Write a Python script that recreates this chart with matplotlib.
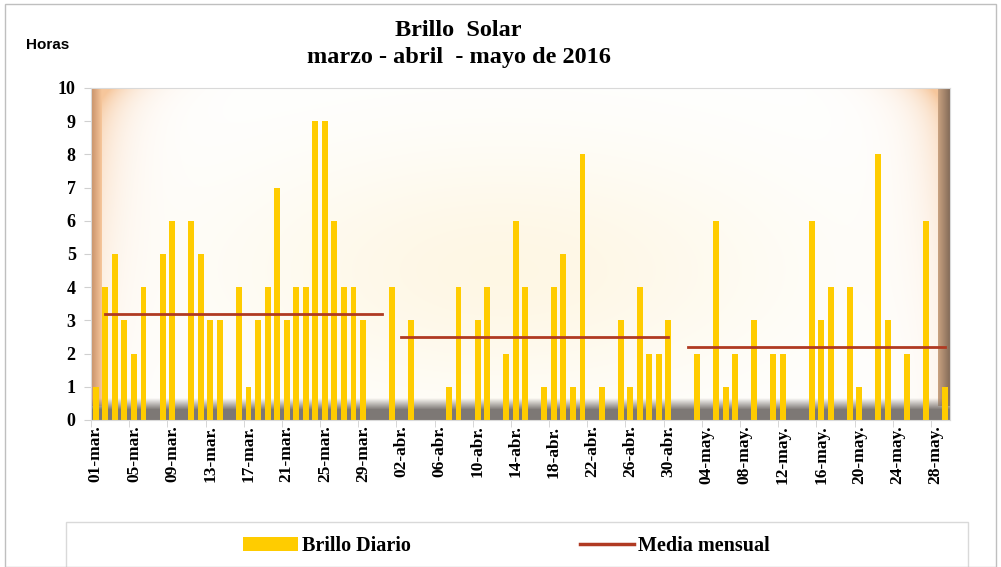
import numpy as np
import matplotlib
matplotlib.use("Agg")
import matplotlib.pyplot as plt
from matplotlib.patches import Rectangle, Patch
from matplotlib.lines import Line2D

# daily sunshine hours, 01-mar-2016 .. 29-may-2016
marzo = [1, 4, 5, 3, 2, 4, 0, 5, 6, 0, 6, 5, 3, 3, 0, 4, 1, 3, 4, 7,
         3, 4, 4, 9, 9, 6, 4, 4, 3, 0, 0]
abril = [4, 0, 3, 0, 0, 0, 1, 4, 0, 3, 4, 0, 2, 6, 4, 0, 1, 4, 5, 1,
         8, 0, 1, 0, 3, 1, 4, 2, 2, 3]
mayo = [0, 0, 2, 0, 6, 1, 2, 0, 3, 0, 2, 2, 0, 0, 6, 3, 4, 0, 4, 1,
        0, 8, 3, 0, 2, 0, 6, 0, 1]
brillo = marzo + abril + mayo

# monthly mean lines (first day index, last day index, value)
media_inicio = [1, 32, 62]
media_fin = [30, 60, 89]
media_valor = [3.2, 2.5, 2.2]

tick_labels = ["01-mar.", "05-mar.", "09-mar.", "13-mar.", "17-mar.", "21-mar.",
               "25-mar.", "29-mar.", "02-abr.", "06-abr.", "10-abr.", "14-abr.",
               "18-abr.", "22-abr.", "26-abr.", "30-abr.", "04-may.", "08-may.",
               "12-may.", "16-may.", "20-may.", "24-may.", "28-may."]

n = len(brillo)
x = np.arange(n)

fig = plt.figure(figsize=(10.01, 5.67), dpi=100)
ax = fig.add_axes([91 / 1001, 1 - 420 / 567, 859 / 1001, 332 / 567])

# background with bevel-ish frame
H, W = 332, 860
U, V = np.meshgrid(np.linspace(0, 1, W), np.linspace(1, 0, H))
img = np.ones((H, W, 3))
cream = np.array([255, 245, 222]) / 255
w = 0.8 * np.exp(-((U - 0.48) / 0.33) ** 2 - ((V - 0.45) / 0.38) ** 2)
img = img * (1 - w[..., None]) + cream * w[..., None]

peach = np.array([246, 198, 155]) / 255
side = np.exp(-U / 0.028) + np.exp(-(1 - U) / 0.028)
gl = side * (0.25 + 0.75 * V ** 2)
corner = np.exp(-(1 - V) / 0.05) * (np.exp(-U / 0.035) + np.exp(-(1 - U) / 0.035))
g = np.clip(gl + corner, 0, 1)
img = img * (1 - g[..., None]) + peach * g[..., None]

# bevel strips
left = (U < 0.012) & (V > 0.04)
lgrad = np.array([200, 145, 105]) / 255
lt = np.clip(U / 0.012, 0, 1)[..., None]
img = np.where(left[..., None], lgrad * (1 - lt) + peach * lt, img)
right = (U > 0.986) & (V > 0.04)
rt = np.clip((U - 0.986) / 0.014, 0, 1)[..., None]
rdark = np.array([128, 104, 86]) / 255
img = np.where(right[..., None], peach * (1 - rt) * 0.6 + rdark * (0.4 + 0.6 * rt), img)
img = np.clip(img, 0, 1)

bot = np.clip((0.065 - V) / 0.035, 0, 1)
gray = np.array([125, 120, 117]) / 255
img = img * (1 - bot[..., None]) + gray * bot[..., None]

ax.imshow(img, extent=[-0.5, n - 0.5, 0, 10], aspect="auto", zorder=0,
          interpolation="bilinear")

ax.bar(x, brillo, width=0.62, color="#FFCC00", zorder=2)
for s, e, m in zip(media_inicio, media_fin, media_valor):
    ax.plot([s, e], [m, m], color="#B03A22", lw=2, zorder=3)

ax.set_xlim(-0.5, n - 0.5)
ax.set_ylim(0, 10)
ax.set_yticks(range(0, 11))
ax.set_yticklabels([str(i) for i in range(0, 11)], fontfamily="Liberation Serif",
                   fontweight="bold", fontsize=13)
ax.set_xticks(x[::4])
ax.set_xticklabels(tick_labels, rotation=90, fontfamily="Liberation Serif",
                   fontweight="bold", fontsize=12.5)
ax.tick_params(axis="x", length=0, pad=4)
ax.set_xticks(np.arange(-0.5, n, 4), minor=True)
ax.tick_params(axis="x", which="minor", length=5, color="#D0D0D0")
ax.tick_params(axis="y", length=5, color="#D0D0D0", pad=6)
for sp in ax.spines.values():
    sp.set_color("#D9D9D9")

fig.text(0.458, 0.946, "Brillo  Solar", ha="center", va="center",
         fontfamily="Liberation Serif", fontweight="bold", fontsize=17.5)
fig.text(0.458, 0.898, "marzo - abril  - mayo de 2016", ha="center", va="center",
         fontfamily="Liberation Serif", fontweight="bold", fontsize=17.5)
fig.text(0.026, 0.92, "Horas", ha="left", va="center",
         fontfamily="Liberation Sans", fontweight="bold", fontsize=11)

# legend box
fig.patches.append(Rectangle((66 / 1001, -0.01), 902 / 1001, 1 - 522 / 567 + 0.01,
                             transform=fig.transFigure, fill=False,
                             edgecolor="#D9D9D9", lw=1))
handles = [Patch(facecolor="#FFCC00", label="Brillo Diario"),
           Line2D([], [], color="#B03A22", lw=2.5, label="Media mensual")]
fig.legend(handles=handles, loc="center", bbox_to_anchor=(0.506, 0.037), ncol=2,
           frameon=False, columnspacing=8.4, handlelength=2.7, handleheight=0.7,
           handletextpad=0.2,
           prop={"family": "Liberation Serif", "weight": "bold", "size": 14.5})

# outer border
fig.patches.append(Rectangle((0.005, 0.0), 0.99, 0.993, transform=fig.transFigure,
                             fill=False, edgecolor="#BFBFBF", lw=1))

fig.savefig("out.png", dpi=100)
